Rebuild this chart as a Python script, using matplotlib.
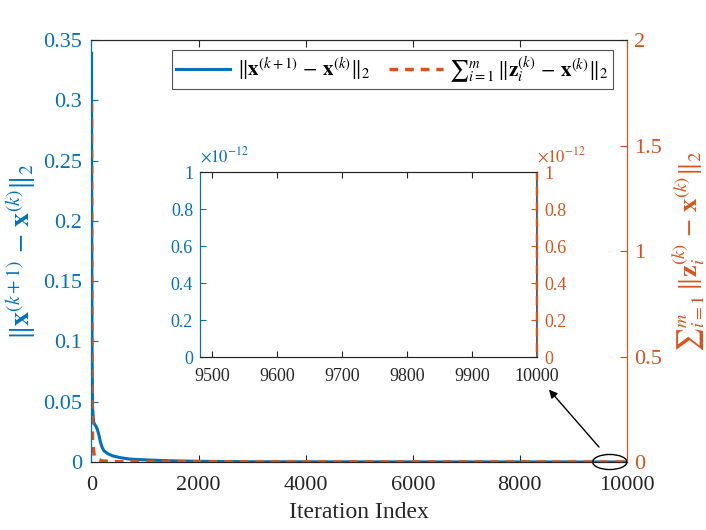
import matplotlib as mpl
mpl.use('agg')
import matplotlib.pyplot as plt
from matplotlib.patches import Ellipse
from matplotlib.ticker import FuncFormatter
import numpy as np

plt.rcParams['font.family'] = 'serif'
plt.rcParams['font.serif'] = ['Liberation Serif', 'DejaVu Serif']
plt.rcParams['mathtext.fontset'] = 'stix'

blue = '#0072BD'
orange = '#D95319'
dark = '#262626'

# ||x(k+1) - x(k)||_2 (left axis)
it_x = [1, 5, 10, 20, 40, 60, 80, 110, 140, 170, 200, 230, 300, 400, 550, 700,
        900, 1150, 1500, 2000, 3000, 10000]
x_diff = [0.339, 0.2, 0.1, 0.045, 0.033, 0.031, 0.030, 0.027, 0.022, 0.016, 0.012,
          0.0095, 0.007, 0.005, 0.0035, 0.0025, 0.002, 0.0015, 0.001, 0.0006, 0.0002, 0.0]

# sum_i ||z_i(k) - x(k)||_2 (right axis)
it_z = [1, 5, 10, 20, 50, 100, 200, 500, 10000]
z_diff = [1.70, 0.8, 0.3, 0.1, 0.03, 0.015, 0.005, 0.001, 0.0]

lab_x = r'$\|\mathbf{x}^{(k+1)}\,-\,\mathbf{x}^{(k)}\|_2$'
lab_z = r'$\sum{}_{i=1}^{m}\,\|\mathbf{z}_i^{(k)}\,-\,\mathbf{x}^{(k)}\|_2$'

fig = plt.figure(figsize=(7.06, 5.30), dpi=100)
ax = fig.add_axes([0.1296, 0.1283, 0.7584, 0.7962])
ax2 = ax.twinx()

l1, = ax.plot(it_x, x_diff, color=blue, lw=2.2, label=lab_x)
l2, = ax2.plot(it_z, z_diff, color=orange, lw=2.5, ls=(0, (2.5, 2)), label=lab_z)

ax.set_xlim(0, 10000)
ax.set_ylim(0, 0.35)
ax2.set_ylim(0, 2)
ax.set_xticks(np.arange(0, 10001, 2000))
ax.set_yticks(np.arange(0, 0.351, 0.05))
ax.set_yticklabels(['0', '0.05', '0.1', '0.15', '0.2', '0.25', '0.3', '0.35'])
ax2.set_yticks([0, 0.5, 1, 1.5, 2])
ax2.set_yticklabels(['0', '0.5', '1', '1.5', '2'])

ax.tick_params(axis='x', direction='in', top=True, labelsize=16, colors=dark, length=5, pad=10)
ax.tick_params(axis='y', direction='in', labelsize=16, colors=blue, length=5, pad=7)
ax2.tick_params(axis='y', direction='in', labelsize=16, colors=orange, length=5, pad=5)
for a in (ax, ax2):
    a.spines['left'].set_color(blue)
    a.spines['right'].set_color(orange)
    a.spines['top'].set_color(dark)
    a.spines['bottom'].set_color(dark)

ax.set_xlabel('Iteration Index', fontsize=17, color=dark, labelpad=5)
ax.set_ylabel(lab_x, fontsize=20, color=blue, labelpad=3)
ax2.set_ylabel(lab_z, fontsize=19, color=orange, labelpad=6)

leg = ax2.legend([l1, l2], [lab_x, lab_z], ncol=2, loc='upper right',
                 bbox_to_anchor=(0.974, 0.976), borderaxespad=0, fontsize=15,
                 frameon=True, fancybox=False, edgecolor=dark, handlelength=2.6,
                 columnspacing=0.9, handletextpad=0.3, borderpad=0.2)
leg.get_frame().set_linewidth(0.8)

# marker of the zoomed region
ell = Ellipse((9680, 0), 640, 0.0125, fill=False, ec='black', lw=1.0, clip_on=False, zorder=5)
ax.add_patch(ell)
ax.annotate('', xy=(8545, 0.06), xytext=(9478, 0.0124),
            arrowprops=dict(arrowstyle='-|>', color='black', lw=1.0, mutation_scale=12,
                            shrinkA=0, shrinkB=0))

# inset
ins = fig.add_axes([0.2833, 0.3264, 0.4773, 0.349])
ins2 = ins.twinx()
ins.plot(it_x, x_diff, color=blue, lw=2.2)
ins2.plot(it_z, z_diff, color=orange, lw=2.5, ls=(0, (2.5, 2)))
ins.set_xlim(9481, 10000)
ins.set_ylim(0, 1e-12)
ins2.set_ylim(0, 1e-12)
ins.set_xticks(np.arange(9500, 10001, 100))
ins.set_yticks(np.arange(0, 1.01e-12, 0.2e-12))
ins2.set_yticks(np.arange(0, 1.01e-12, 0.2e-12))
fmt = FuncFormatter(lambda v, p: '%g' % round(v / 1e-12, 3))
ins.yaxis.set_major_formatter(fmt)
ins2.yaxis.set_major_formatter(fmt)
ins.tick_params(axis='x', direction='in', top=True, labelsize=13, colors=dark, length=4, pad=8)
ins.tick_params(axis='y', direction='in', labelsize=13, colors=blue, length=4, pad=5)
ins2.tick_params(axis='y', direction='in', labelsize=13, colors=orange, length=4, pad=5)
ins.text(0.0, 1.035, r'$\times10^{-12}$', transform=ins.transAxes, ha='left', va='bottom',
         fontsize=12, color=blue)
ins.text(1.0, 1.035, r'$\times10^{-12}$', transform=ins.transAxes, ha='left', va='bottom',
         fontsize=12, color=orange)
for a in (ins, ins2):
    a.spines['left'].set_color(blue)
    a.spines['right'].set_color(orange)
    a.spines['top'].set_color(dark)
    a.spines['bottom'].set_color(dark)

plt.savefig('out.png', dpi=100)
